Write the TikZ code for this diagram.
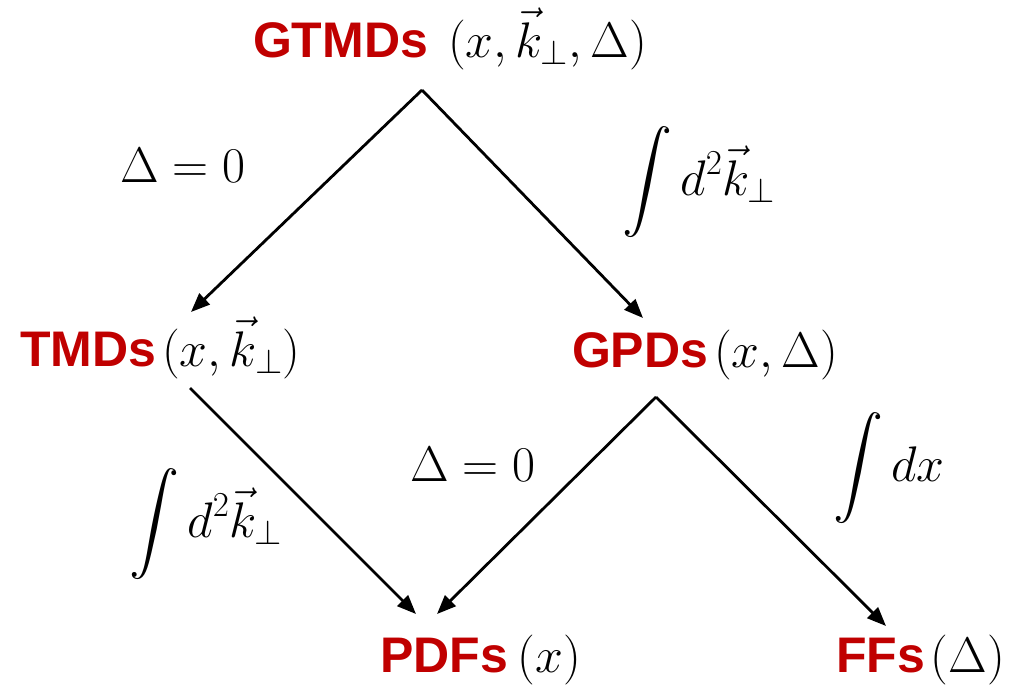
\RequirePackage{fix-cm}
\documentclass[tikz,border=0pt]{standalone}
\DeclareFontShape{OMX}{cmex}{m}{n}{<->cmex10}{}
\usepackage{fontspec}
\newfontfamily\hv{Liberation Sans}[BoldFont={Liberation Sans Bold}]
\usetikzlibrary{arrows.meta}
\definecolor{lblred}{RGB}{192,0,0}
\newcommand{\lbl}[1]{{\fontsize{50}{60}\selectfont\hv\bfseries\color{lblred}#1}}
\begin{document}
\begin{tikzpicture}[x=1pt,y=-1pt,
  every node/.style={inner sep=0pt,outer sep=0pt,anchor=base west,font=\fontsize{50}{60}\selectfont},
  arr/.style={line width=2.8pt,-{Triangle[length=19pt,width=15pt]}}]
\useasboundingbox (0,0) rectangle (1010,688);
% main labels
\node (gtmds) at (253,57) {\lbl{GTMDs}\hspace{20pt}$(x,\vec{k}_\perp,\Delta)$};
\node (tmds) at (20,366) {\lbl{TMDs}\hspace{6pt}$(x,\vec{k}_\perp)$};
\node (gpds) at (572,367) {\lbl{GPDs}\hspace{6pt}$(x,\Delta)$};
\node (pdfs) at (380,672) {\lbl{PDFs}\hspace{10pt}$(x)$};
\node (ffs) at (836,672) {\lbl{FFs}\hspace{6pt}$(\Delta)$};
% edge labels
\node (l1) at (120,182) {$\Delta=0$};
\node (l2) at (622,195) {$\displaystyle\int d^2\vec{k}_\perp$};
\node (l3) at (129,537) {$\displaystyle\int d^2\vec{k}_\perp$};
\node (l4) at (410,481) {$\Delta=0$};
\node (l5) at (833,481) {$\displaystyle\int dx$};
% connector ends
\coordinate (apexA) at (422,90);
\coordinate (tipT) at (191,312);
\coordinate (tipG) at (643,318);
\coordinate (startT) at (190,388);
\coordinate (tipP1) at (416,614);
\coordinate (apexB) at (656,397);
\coordinate (tipP2) at (437,614);
\coordinate (tipF) at (886,626);
\draw[arr] (apexA) -- (tipT);
\draw[arr] (apexA) -- (tipG);
\draw[arr] (startT) -- (tipP1);
\draw[arr] (apexB) -- (tipP2);
\draw[arr] (apexB) -- (tipF);
\end{tikzpicture}
\end{document}
